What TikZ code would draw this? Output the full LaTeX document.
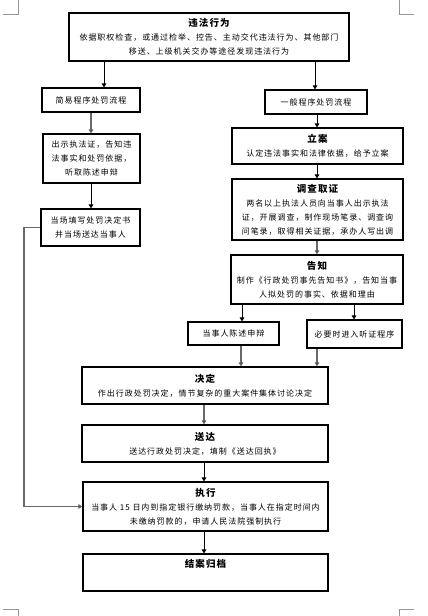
\documentclass[tikz,border=0pt]{standalone}
\usepackage{fontspec}
\usetikzlibrary{arrows.meta}
\newfontfamily\cjk[LetterSpace=12]{Noto Sans CJK SC}
\definecolor{lg}{RGB}{105,105,105}
\definecolor{mark}{RGB}{150,150,150}
\tikzset{
  box/.style={draw=black, line width=1.1pt, inner sep=0pt, align=center, anchor=center,
    font=\cjk\fontsize{8}{14}\selectfont},
  arr/.style={line width=1pt, draw=black, -{Triangle[length=4pt,width=4.5pt]}},
  garr/.style={line width=1.2pt, draw=lg, -{Triangle[length=4pt,width=4.5pt,fill=black]}},
  cmark/.style={draw=mark, line width=0.8pt},
}
\newcommand{\ttl}[1]{{\fontsize{9.5}{14}\selectfont\bfseries #1}}
\begin{document}
\begin{tikzpicture}[x=1pt,y=-1pt]
\useasboundingbox (0,0) rectangle (428,616);
% page corner marks
\draw[cmark] (3,14) -- (18,14) -- (18,0);
\draw[cmark] (414,14) -- (399,14) -- (399,0);
\draw[cmark] (3,609) -- (18,609) -- (18,616);
\draw[cmark] (414,609) -- (399,609) -- (399,616);

\node[box, minimum width=280pt, minimum height=48pt] (b1) at (209,37)
  {\ttl{违法行为}\\依据职权检查，或通过检举、控告、主动交代违法行为、其他部门\\移送、上级机关交办等途径发现违法行为};
\node[box, minimum width=98pt, minimum height=24pt] (b2) at (91,100) {简易程序处罚流程};
\node[box, minimum width=97pt, minimum height=49pt] (b3) at (91.5,158.5)
  {出示执法证，告知违\\法事实和处罚依据，\\听取陈述申辩};
\node[box, minimum width=99pt, minimum height=37pt] (b4) at (90.5,227.5)
  {当场填写处罚决定书\\并当场送达当事人};
\node[box, minimum width=102pt, minimum height=24pt] (b5) at (316,102) {一般程序处罚流程};
\node[box, minimum width=171pt, minimum height=36pt] (b6) at (317.5,146)
  {\ttl{立案}\\认定违法事实和法律依据，给予立案};
\node[box, minimum width=171pt, minimum height=61pt] (b7) at (317.5,209.5)
  {\ttl{调查取证}\\两名以上执法人员向当事人出示执法\\证，开展调查，制作现场笔录、调查询\\问笔录，取得相关证据，承办人写出调};
\node[box, minimum width=172pt, minimum height=49pt] (b8) at (317,279.5)
  {\ttl{告知}\\制作《行政处罚事先告知书》，告知当事\\人拟处罚的事实、依据和理由};
\node[box, minimum width=91pt, minimum height=23pt] (b9) at (233.5,333.5) {当事人陈述申辩};
\node[box, minimum width=95pt, minimum height=28pt] (b10) at (354.5,334) {必要时进入听证程序};
\node[box, minimum width=246pt, minimum height=37pt] (b11) at (205,385.5)
  {\ttl{决定}\\作出行政处罚决定，情节复杂的重大案件集体讨论决定};
\node[box, minimum width=246pt, minimum height=37pt] (b12) at (205,443.5)
  {\ttl{送达}\\送达行政处罚决定，填制《送达回执》};
\node[box, minimum width=245pt, minimum height=49pt] (b13) at (205.5,506.5)
  {\ttl{执行}\\当事人 15 日内到指定银行缴纳罚款，当事人在指定时间内\\未缴纳罚款的，申请人民法院强制执行};
\node[box, minimum width=245pt, minimum height=37pt] (b14) at (205.5,572.5)
  {\ttl{结案归档}\\\strut};

% x positions of connectors
\coordinate (xa) at (104,0);
\coordinate (xb) at (315,0);
\coordinate (xc) at (91,0);
\coordinate (xd) at (317,0);
\coordinate (xe) at (242,0);
\coordinate (xf) at (354,0);
\coordinate (xg) at (241,0);
\coordinate (xh) at (204,0);
\coordinate (lx) at (24,0);

\draw[arr] (b1.south -| xa) -- (b2.north -| xa);
\draw[arr] (b1.south -| xb) -- (b5.north -| xb);
\draw[garr] (b2.south -| xc) -- (b3.north -| xc);
\draw[arr] (b3.south -| xc) -- (b4.north -| xc);
\draw[arr] (b5.south -| xd) -- (b6.north -| xd);
\draw[arr] (b6.south -| xd) -- (b7.north -| xd);
\draw[garr] (b7.south -| xd) -- (b8.north -| xd);
\draw[arr] (b8.south -| xe) -- (b9.north -| xe);
\draw[arr] (b8.south -| xf) -- (b10.north -| xf);
\draw[garr] (b9.south -| xg) -- (b11.north -| xg);
\draw[garr] (b10.south -| xd) -- (b11.north -| xd);
\draw[garr] (b11.south -| xh) -- (b12.north -| xh);
\draw[arr] (b12.south -| xh) -- (b13.north -| xh);
\draw[arr] (b13.south -| xh) -- (b14.north -| xh);
\draw[garr] (b4.west) -- (b4.west -| lx) -- (b13.west -| lx) -- (b13.west);
\end{tikzpicture}
\end{document}
